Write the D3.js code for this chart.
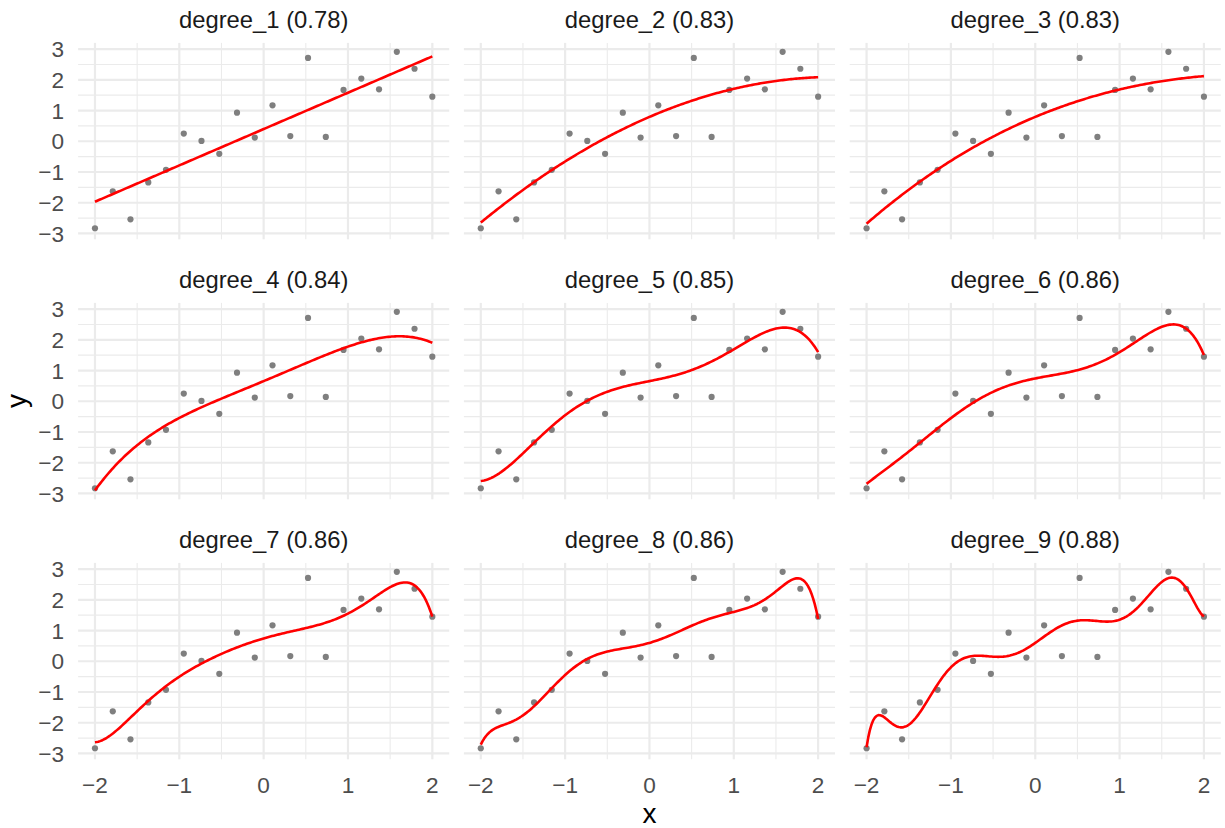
<!DOCTYPE html>
<html>
<head>
<meta charset="utf-8">
<script src="https://cdn.jsdelivr.net/npm/d3@7"></script>
<style>
  html, body { margin: 0; padding: 0; background: #ffffff; }
  svg { display: block; font-family: "Liberation Sans", Arial, Helvetica, sans-serif; }
</style>
</head>
<body>
<svg id="chart" width="1225" height="828"></svg>
<script>
// Observations shared by every panel
const xValues = [-2.000, -1.789, -1.579, -1.368, -1.158, -0.947, -0.737, -0.526, -0.316, -0.105,
                  0.105,  0.316,  0.526,  0.737,  0.947,  1.158,  1.368,  1.579,  1.789,  2.000];
const yValues = [-2.83, -1.63, -2.54, -1.34, -0.93, 0.25, 0.01, -0.41, 0.93, 0.12,
                  1.17,  0.17,  2.71,  0.14,  1.67, 2.04, 1.69,  2.91, 2.36, 1.45];

// One panel per polynomial degree, with its R-squared
const degrees = [1, 2, 3, 4, 5, 6, 7, 8, 9];
const rSquared = [0.78, 0.83, 0.83, 0.84, 0.85, 0.86, 0.86, 0.86, 0.88];

// Axis breaks
const xTicks = [-2, -1, 0, 1, 2];
const xMinor = [-1.5, -0.5, 0.5, 1.5];
const yTicks = [-3, -2, -1, 0, 1, 2, 3];
const yMinor = [-2.5, -1.5, -0.5, 0.5, 1.5, 2.5];

// Least-squares polynomial fit (Householder QR on a scaled Vandermonde matrix)
function polyfit(xs, ys, deg) {
  const m = xs.length, n = deg + 1;
  const A = xs.map(x => d3.range(n).map(j => Math.pow(x / 2, j)));
  const b = ys.slice();
  for (let k = 0; k < n; k++) {
    let norm = 0;
    for (let i = k; i < m; i++) norm += A[i][k] * A[i][k];
    norm = Math.sqrt(norm);
    const alpha = A[k][k] > 0 ? -norm : norm;
    const v = [];
    for (let i = k; i < m; i++) v.push(A[i][k]);
    v[0] -= alpha;
    const vv = d3.sum(v, d => d * d);
    if (vv === 0) continue;
    for (let j = k; j < n; j++) {
      let dot = 0;
      for (let i = k; i < m; i++) dot += v[i - k] * A[i][j];
      const f = 2 * dot / vv;
      for (let i = k; i < m; i++) A[i][j] -= f * v[i - k];
    }
    let dotb = 0;
    for (let i = k; i < m; i++) dotb += v[i - k] * b[i];
    const fb = 2 * dotb / vv;
    for (let i = k; i < m; i++) b[i] -= fb * v[i - k];
  }
  const c = new Array(n).fill(0);
  for (let k = n - 1; k >= 0; k--) {
    let s = b[k];
    for (let j = k + 1; j < n; j++) s -= A[k][j] * c[j];
    c[k] = s / A[k][k];
  }
  return x => d3.sum(c, (cj, j) => cj * Math.pow(x / 2, j));
}

const points = xValues.map((x, i) => ({ x, y: yValues[i] }));
const xExtent = d3.extent(xValues);
const gridX = d3.range(0, 201).map(i => xExtent[0] + (xExtent[1] - xExtent[0]) * i / 200);

const fits = degrees.map((deg, i) => {
  const f = polyfit(xValues, yValues, deg);
  return {
    label: `degree_${deg} (${rSquared[i].toFixed(2)})`,
    curve: gridX.map(x => ({ x, y: f(x) }))
  };
});

// Shared scales (fixed across facets) with 5% padding
const allY = yValues.concat(...fits.map(f => f.curve.map(p => p.y)));
const [yLo, yHi] = d3.extent(allY);
const xPad = (xExtent[1] - xExtent[0]) * 0.05;
const yPad = (yHi - yLo) * 0.05;

// Layout
const left0 = 78.1, panelW = 371.1, gapX = 14.7;
const top0 = 42.9, panelH = 196.4, rowStep = 260;

const svg = d3.select("#chart");

const gridCol = "#EBEBEB";
const tickCol = "#4D4D4D";
const fmt = d => d3.format("")(d).replace("-", "\u2212");

fits.forEach((fit, idx) => {
  const col = idx % 3, row = Math.floor(idx / 3);
  const px = left0 + col * (panelW + gapX);
  const py = top0 + row * rowStep;

  const x = d3.scaleLinear().domain([xExtent[0] - xPad, xExtent[1] + xPad]).range([px, px + panelW]);
  const y = d3.scaleLinear().domain([yLo - yPad, yHi + yPad]).range([py + panelH, py]);

  const g = svg.append("g");

  // minor grid
  g.selectAll(".ymin").data(yMinor).join("line")
    .attr("x1", px).attr("x2", px + panelW)
    .attr("y1", d => y(d)).attr("y2", d => y(d))
    .attr("stroke", gridCol).attr("stroke-width", 1.1);
  g.selectAll(".xmin").data(xMinor).join("line")
    .attr("x1", d => x(d)).attr("x2", d => x(d))
    .attr("y1", py).attr("y2", py + panelH)
    .attr("stroke", gridCol).attr("stroke-width", 1.1);
  // major grid
  g.selectAll(".ymaj").data(yTicks).join("line")
    .attr("x1", px).attr("x2", px + panelW)
    .attr("y1", d => y(d)).attr("y2", d => y(d))
    .attr("stroke", gridCol).attr("stroke-width", 2.2);
  g.selectAll(".xmaj").data(xTicks).join("line")
    .attr("x1", d => x(d)).attr("x2", d => x(d))
    .attr("y1", py).attr("y2", py + panelH)
    .attr("stroke", gridCol).attr("stroke-width", 2.2);

  // observations
  g.selectAll(".pt").data(points).join("circle")
    .attr("cx", d => x(d.x)).attr("cy", d => y(d.y))
    .attr("r", 3.1).attr("fill", "#7F7F7F");

  // fitted polynomial
  g.append("path")
    .datum(fit.curve)
    .attr("fill", "none")
    .attr("stroke", "#FF0000")
    .attr("stroke-width", 2.6)
    .attr("stroke-linejoin", "round")
    .attr("d", d3.line().x(d => x(d.x)).y(d => y(d.y)));

  // strip title
  g.append("text")
    .attr("x", px + panelW / 2).attr("y", py - 14.6)
    .attr("text-anchor", "middle")
    .attr("font-size", 23.8).attr("fill", "#1A1A1A")
    .text(fit.label);

  // y tick labels on the first column
  if (col === 0) {
    g.selectAll(".yt").data(yTicks).join("text")
      .attr("x", px - 14).attr("y", d => y(d) + 8.2)
      .attr("text-anchor", "end")
      .attr("font-size", 22.6).attr("fill", tickCol)
      .text(fmt);
  }
  // x tick labels on the bottom row
  if (row === 2) {
    g.selectAll(".xt").data(xTicks).join("text")
      .attr("x", d => x(d)).attr("y", py + panelH + 33.4)
      .attr("text-anchor", "middle")
      .attr("font-size", 22.6).attr("fill", tickCol)
      .text(fmt);
  }
});

// axis titles
const plotLeft = left0, plotRight = left0 + 3 * panelW + 2 * gapX;
svg.append("text")
  .attr("x", (plotLeft + plotRight) / 2).attr("y", 822.5)
  .attr("text-anchor", "middle")
  .attr("font-size", 28).attr("fill", "#000000")
  .text("x");
svg.append("text")
  .attr("transform", `translate(25.5,${top0 + (2 * rowStep + panelH) / 2}) rotate(-90)`)
  .attr("text-anchor", "middle")
  .attr("font-size", 28).attr("fill", "#000000")
  .text("y");
</script>
</body>
</html>
